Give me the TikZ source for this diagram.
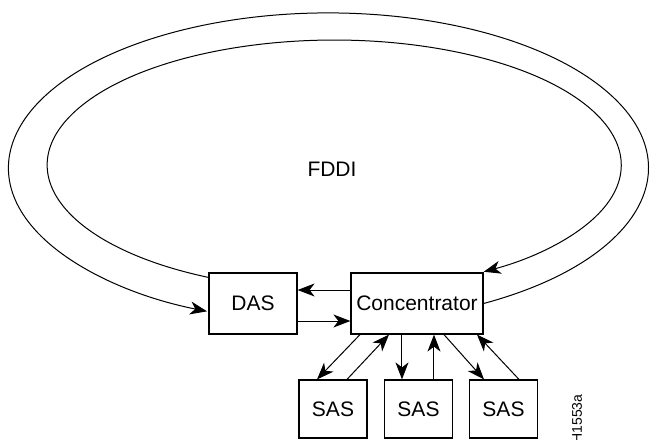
\documentclass[tikz,border=0pt]{standalone}
\usepackage{fontspec}
\setmainfont{Liberation Sans}
\usetikzlibrary{arrows.meta}

\begin{document}
\begin{tikzpicture}[x=0.5pt, y=-0.5pt,
	box/.style={draw, line width=0.6pt, inner sep=0pt, font=\fontsize{10.5}{12}\selectfont},
	sasbox/.style={box, minimum width=34pt, minimum height=29pt},
	arr/.style={-{Stealth[length=8.5pt, width=6.5pt, inset=2.5pt]}, line width=0.5pt},
	ring/.style={line width=0.45pt}]

	\useasboundingbox (0,0) rectangle (650,440);

	\node[font=\fontsize{10.5}{12}\selectfont] (fddi) at (332,169) {FDDI};

	\node[box, minimum width=44pt, minimum height=30.5pt] (das) at (253,303.5) {DAS};
	\node[box, minimum width=66pt, minimum height=30.5pt] (conc) at (417,303.5) {Concentrator};

	\node[sasbox] (sas1) at (333,409) {SAS};
	\node[sasbox] (sas2) at (418.5,409) {SAS};
	\node[sasbox] (sas3) at (503.5,409) {SAS};

	% the two rings
	\draw[ring, arr] (conc.east) arc[start angle=-61, end angle=247.7, x radius=160pt, y radius=77.5pt];
	\draw[ring, arr] ([yshift=-2.5pt]das.north west) arc[start angle=244, end angle=-58.6, x radius=143.5pt, y radius=62.5pt];

	\draw[arr] ([yshift=6.75pt]conc.west) -- ([yshift=6.75pt]das.east);
	\draw[arr] ([yshift=-8.75pt]das.east) -- ([yshift=-8.75pt]conc.west);

	\draw[arr] ([xshift=-28.5pt]conc.south) -- ([xshift=-8pt]sas1.north);
	\draw[arr] ([xshift=7pt]sas1.north) -- ([xshift=-14pt]conc.south);
	\draw[arr] ([xshift=-7.5pt]conc.south) -- ([xshift=-8.25pt]sas2.north);
	\draw[arr] ([xshift=7.75pt]sas2.north) -- ([xshift=8.5pt]conc.south);
	\draw[arr] ([xshift=13.5pt]conc.south) -- ([xshift=-9.75pt]sas3.north);
	\draw[arr] ([xshift=7.75pt]sas3.north) -- ([xshift=30pt]conc.south);

	\node[rotate=90, anchor=west, inner sep=0pt, font=\fontsize{7}{8}\selectfont] (fig) at (577,444) {H1553a};

\end{tikzpicture}
\end{document}
